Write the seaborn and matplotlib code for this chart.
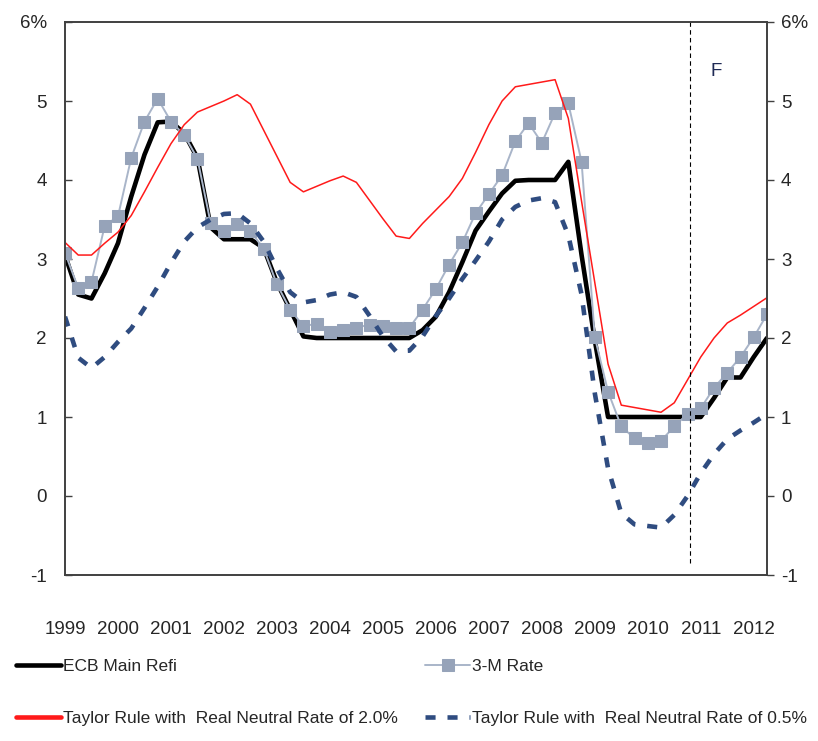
import pandas as pd
import numpy as np
import seaborn as sns
import matplotlib.pyplot as plt
import matplotlib.font_manager as fm

# quarterly series, 1999Q1 .. 2012Q2
years = [str(y) for y in range(1999, 2013)]

ecb_refi = [3.05, 2.55, 2.5, 2.82, 3.2, 3.79, 4.32, 4.73, 4.74, 4.59, 4.28, 3.4, 3.25, 3.25,
            3.25, 3.14, 2.7, 2.36, 2.02, 2.0, 2.0, 2.0, 2.0, 2.0, 2.0, 2.0, 2.0, 2.1,
            2.27, 2.58, 2.96, 3.36, 3.6, 3.83, 3.99, 4.0, 4.0, 4.0, 4.23, 3.05, 1.97, 1.0,
            1.0, 1.0, 1.0, 1.0, 1.0, 1.0, 1.0, 1.24, 1.5, 1.5, 1.76, 2.0]

rate_3m = [3.08, 2.63, 2.71, 3.42, 3.54, 4.28, 4.74, 5.03, 4.74, 4.57, 4.27, 3.45, 3.36, 3.44,
           3.35, 3.13, 2.68, 2.36, 2.15, 2.18, 2.08, 2.1, 2.13, 2.17, 2.15, 2.13, 2.13, 2.36,
           2.62, 2.93, 3.21, 3.58, 3.82, 4.06, 4.49, 4.72, 4.47, 4.85, 4.97, 4.23, 2.01, 1.32,
           0.88, 0.73, 0.67, 0.7, 0.88, 1.04, 1.11, 1.37, 1.56, 1.76, 2.01, 2.3]

taylor_20 = [3.21, 3.05, 3.05, 3.2, 3.34, 3.55, 3.85, 4.16, 4.46, 4.7, 4.86, 4.93, 5.0, 5.08,
             4.96, 4.63, 4.3, 3.97, 3.85, 3.92, 3.99, 4.05, 3.97, 3.74, 3.51, 3.29, 3.26, 3.45,
             3.62, 3.79, 4.02, 4.35, 4.7, 5.0, 5.18, 5.21, 5.24, 5.27, 4.78, 3.73, 2.7, 1.67,
             1.15, 1.12, 1.09, 1.06, 1.18, 1.47, 1.76, 2.0, 2.19, 2.29, 2.4, 2.51]

taylor_05 = [2.27, 1.75, 1.62, 1.76, 1.95, 2.12, 2.38, 2.65, 2.95, 3.22, 3.4, 3.5, 3.57, 3.58,
             3.45, 3.22, 2.88, 2.58, 2.45, 2.48, 2.55, 2.58, 2.52, 2.28, 2.02, 1.83, 1.84, 2.02,
             2.28, 2.5, 2.75, 2.98, 3.22, 3.5, 3.66, 3.74, 3.77, 3.72, 3.3, 2.55, 1.3, 0.35,
             -0.22, -0.36, -0.38, -0.4, -0.24, 0.0, 0.29, 0.53, 0.72, 0.83, 0.93, 1.04]

forecast_start = 47.2   # quarter index where forecast begins
yticks = [-1, 0, 1, 2, 3, 4, 5, 6]
ytick_labels = ['-1', '0', '1', '2', '3', '4', '5', '6%']

df = pd.DataFrame({'q': np.arange(len(ecb_refi)), 'ecb': ecb_refi, 'm3': rate_3m,
                   't20': taylor_20, 't05': taylor_05})

sns.set_style('white')
names = {f.name for f in fm.fontManager.ttflist}
fam = 'Liberation Sans Narrow' if 'Liberation Sans Narrow' in names else 'Liberation Sans'
plt.rcParams['font.family'] = [fam, 'DejaVu Sans']
fs = 13.5
lfs = 12.5

fig = plt.figure(figsize=(8.18, 7.41), dpi=100)
ax = fig.add_axes([65/818, 1-575/741, 702/818, 553/741])

sns.lineplot(data=df, x='q', y='ecb', ax=ax, color='black', lw=3.3, label='ECB Main Refi')
sns.lineplot(data=df, x='q', y='m3', ax=ax, color='#A9B5C9', lw=1.4, marker='s', markersize=8.5,
             markerfacecolor='#96A3B9', markeredgecolor='#96A3B9', label='3-M Rate')
sns.lineplot(data=df, x='q', y='t20', ax=ax, color='#FF1A1A', lw=1.1,
             label='Taylor Rule with  Real Neutral Rate of 2.0%')
sns.lineplot(data=df, x='q', y='t05', ax=ax, color='#2F4C80', lw=3.3,
             label='Taylor Rule with  Real Neutral Rate of 0.5%')
ax.lines[-1].set_dashes((2.2, 2.6))
ax.lines[-1].set_dash_capstyle('butt')

ax.vlines(forecast_start, -0.85, 6, colors='black', linestyles=(0, (4, 3)), lw=0.8)
ax.text(forecast_start + 1.5, 5.37, 'F', fontsize=fs, color='#1F2A55', va='center')

ax.set_xlim(0, len(ecb_refi) - 1)
ax.set_ylim(-1, 6)
ax.set_xticks(np.arange(0, len(ecb_refi), 4))
ax.set_xticklabels(years, fontsize=fs)
ax.tick_params(axis='x', length=0, pad=33)
ax.set_yticks(yticks)
ax.set_yticklabels(ytick_labels, fontsize=fs)
ax.tick_params(axis='y', direction='in', length=5, width=1, color='#404040', pad=13, left=True)
ax.set_xlabel('')
ax.set_ylabel('')
for s in ax.spines.values():
    s.set_color('#404040')
    s.set_linewidth(1.2)

ax2 = ax.twinx()
ax2.set_ylim(-1, 6)
ax2.set_yticks(yticks)
ax2.set_yticklabels(ytick_labels, fontsize=fs)
ax2.tick_params(axis='y', direction='out', length=5, width=1, color='#404040', pad=5)
for s in ax2.spines.values():
    s.set_color('#404040')
    s.set_linewidth(1.2)

handles, labels = ax.get_legend_handles_labels()
ax.get_legend().remove()
leg_kw = dict(loc='upper left', frameon=False, fontsize=lfs, handlelength=2.6,
              handletextpad=0.1, labelspacing=2.1, borderpad=0, borderaxespad=0)
leg1 = fig.legend([handles[0], handles[2]], [labels[0], labels[2]],
                  bbox_to_anchor=(16/818, 1-659/741), **leg_kw)
leg1.get_lines()[1].set_linewidth(3.3)
leg2 = fig.legend([handles[1], handles[3]], [labels[1], labels[3]],
                  bbox_to_anchor=(425/818, 1-659/741), **leg_kw)

fig.savefig('out.png', dpi=100)
